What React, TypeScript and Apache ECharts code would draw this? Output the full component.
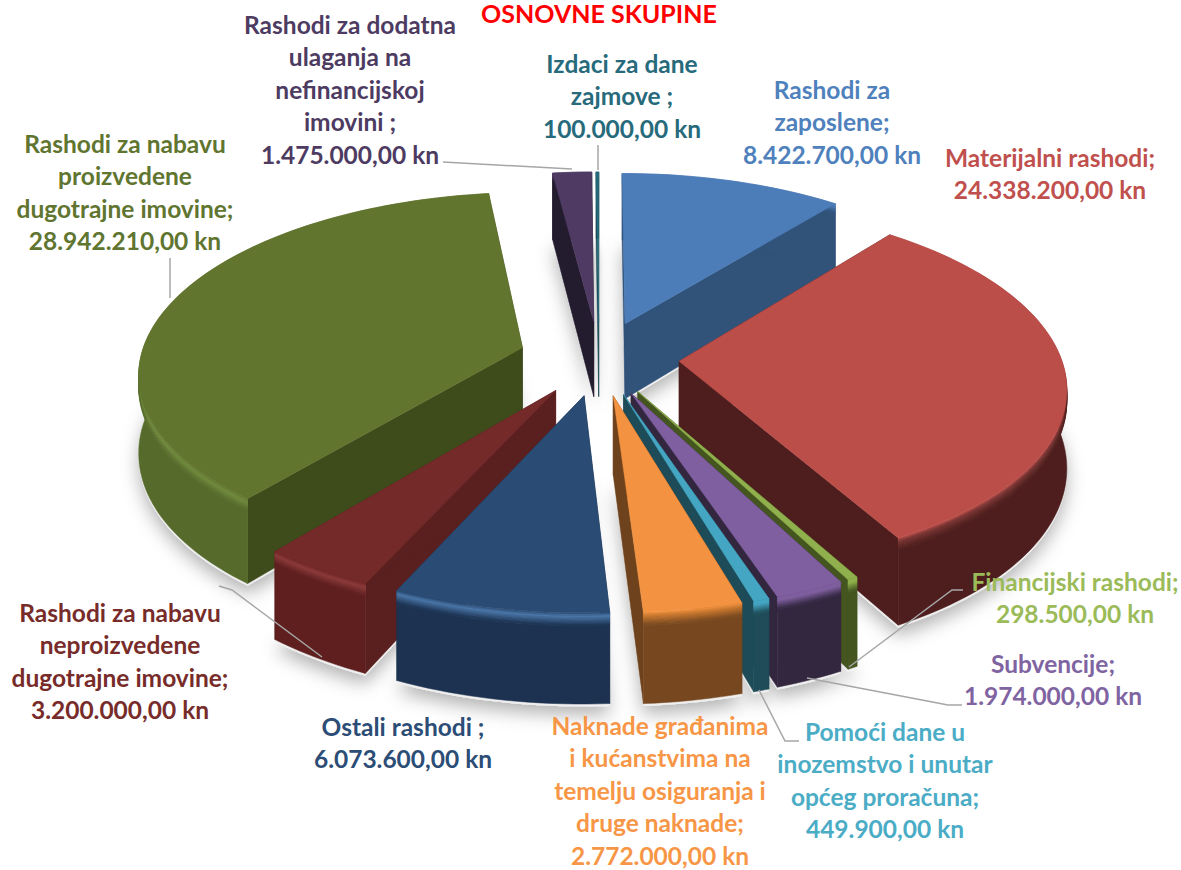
import React, { useEffect, useRef } from "react";
import * as echarts from "echarts";

const categories = [
  "Rashodi za zaposlene",
  "Materijalni rashodi",
  "Financijski rashodi",
  "Subvencije",
  "Pomoći dane u inozemstvo i unutar općeg proračuna",
  "Naknade građanima i kućanstvima na temelju osiguranja i druge naknade",
  "Ostali rashodi",
  "Rashodi za nabavu neproizvedene dugotrajne imovine",
  "Rashodi za nabavu proizvedene dugotrajne imovine",
  "Rashodi za dodatna ulaganja na nefinancijskoj imovini",
  "Izdaci za dane zajmove",
];
const values = [8422700, 24338200, 298500, 1974000, 449900, 2772000, 6073600, 3200000, 28942210, 1475000, 100000];

const topColors = ["#4C7DB8", "#BC4E4A", "#8FB04C", "#7F5F9F", "#45A6C3", "#F39341", "#2A4B73", "#752A2A", "#62752F", "#4E3A62", "#276A7C"];
const edgeColors = ["#31537A", "#4D1E1D", "#445520", "#32273F", "#1D4B57", "#6E421C", "#1B2F4A", "#5A201F", "#3E4C1C", "#231B2E", "#1B4A56"];
const wallColors = ["#31537A", "#4D1E1D", "#445520", "#32273F", "#1F4C58", "#774820", "#1C3250", "#5E1F1E", "#566A2B", "#231B2E", "#1B4A56"];
const rimColors = ["#4C7DB8", "#7A3533", "#8FB04C", "#7F5F9F", "#45A6C3", "#C9782F", "#4A76A8", "#8C3A3A", "#6F8A3C", "#4E3A62", "#276A7C"];
const labelColors = ["#4F81BD", "#C0504D", "#9BBB59", "#8064A2", "#4BACC6", "#F79646", "#2C4D75", "#772C2A", "#5F7530", "#4D3B62", "#276A7C"];

const labelLines = [
  ["Rashodi za", "zaposlene;", "8.422.700,00 kn"],
  ["Materijalni rashodi;", "24.338.200,00 kn"],
  ["Financijski rashodi;", "298.500,00 kn"],
  ["Subvencije;", "1.974.000,00 kn"],
  ["Pomoći dane u", "inozemstvo i unutar", "općeg proračuna;", "449.900,00 kn"],
  ["Naknade građanima", "i kućanstvima na", "temelju osiguranja i", "druge naknade;", "2.772.000,00 kn"],
  ["Ostali rashodi ;", "6.073.600,00 kn"],
  ["Rashodi za nabavu", "neproizvedene", "dugotrajne imovine;", "3.200.000,00 kn"],
  ["Rashodi za nabavu", "proizvedene", "dugotrajne imovine;", "28.942.210,00 kn"],
  ["Rashodi za dodatna", "ulaganja na", "nefinancijskoj", "imovini ;", "1.475.000,00 kn"],
  ["Izdaci za dane", "zajmove ;", "100.000,00 kn"],
];
const labelAnchors: [number, number][] = [
  [832, 89], [1050, 157], [1075, 581], [1053, 663], [885, 731], [660, 725],
  [403, 726], [120, 612], [125, 143], [350, 24], [622, 63],
];
const labelStep = 32.5;

const leaderLines: number[][][] = [
  [[443, 162], [572, 169]],
  [[598, 145], [598, 170]],
  [[170, 258], [170, 298]],
  [[219, 586], [232, 590], [322, 657]],
  [[963, 590], [952, 590], [849, 667]],
  [[962, 705], [948, 705], [807, 678]],
  [[759, 690], [785, 741], [799, 741]],
];

const VIEW = { cx: 599, cy: 358, rx: 382, ry: 178, persp: 0.13, depth: 77, explode: 0.21, rim: 11 };
const total = values.reduce((a, b) => a + b, 0);

function hexRgb(h: string) {
  return [1, 3, 5].map((i) => parseInt(h.slice(i, i + 2), 16));
}
function mix(a: string, b: string, t: number) {
  const A = hexRgb(a), B = hexRgb(b);
  return `rgb(${A.map((c, i) => Math.round(c + (B[i] - c) * t)).join(",")})`;
}

function renderSlice(params: any, api: any) {
  const i = params.dataIndex;
  const before = values.slice(0, i).reduce((a, b) => a + b, 0);
  const a0 = (before / total) * Math.PI * 2;
  const a1 = a0 + (api.value(0) / total) * Math.PI * 2;
  const mid = (a0 + a1) / 2;
  const ex = VIEW.explode * Math.sin(mid);
  const ey = -VIEW.explode * Math.cos(mid);
  const project = (u0: number, v0: number, z: number) => {
    const u = u0 + ex, v = v0 + ey;
    const w = 1 / (1 - VIEW.persp * v);
    return [VIEW.cx + VIEW.rx * u * w, VIEW.cy + VIEW.ry * v * w + z * w];
  };
  const n = Math.max(2, Math.ceil((a1 - a0) / (Math.PI / 120)));
  const angles: number[] = [];
  for (let k = 0; k <= n; k++) angles.push(a0 + ((a1 - a0) * k) / n);
  const arc = (z: number) => angles.map((a) => project(Math.sin(a), -Math.cos(a), z));
  const order = 300 - Math.cos(mid) * 100;
  const children: any[] = [];
  const poly = (points: number[][], fill: string, z2: number, extra: any = {}) =>
    children.push({ type: "polygon", shape: { points }, style: { fill, stroke: fill, lineWidth: 0.5, ...extra }, z2 });

  // soft ground shadow
  const footprint = [project(0, 0, VIEW.depth + 2), ...arc(VIEW.depth + 2)];
  children.push({
    type: "polygon",
    shape: { points: footprint },
    style: { fill: "#efefef", shadowBlur: 18, shadowOffsetY: 8, shadowColor: "rgba(0,0,0,0.3)" },
    z2: 1,
  });

  const apexTop = project(0, 0, 0);
  const apexBottom = project(0, 0, VIEW.depth);
  const edge = (a: number) => {
    const t = project(Math.sin(a), -Math.cos(a), 0);
    const b = project(Math.sin(a), -Math.cos(a), VIEW.depth);
    return [apexTop, t, b, apexBottom];
  };
  poly(edge(a0), edgeColors[i], order);
  poly(edge(a1), edgeColors[i], order);

  // outer wall, then the rounded rim as thin strips that follow the arc
  poly([...arc(VIEW.rim), ...arc(VIEW.depth).reverse()], wallColors[i], order + 0.1);
  const strips = 8;
  for (let s = 0; s < strips; s++) {
    const t0 = s / strips, t1 = (s + 1) / strips;
    const tm = (t0 + t1) / 2;
    const color = tm < 0.3
      ? mix(topColors[i], rimColors[i], tm / 0.3)
      : mix(rimColors[i], wallColors[i], (tm - 0.3) / 0.7);
    poly([...arc(t0 * VIEW.rim), ...arc(t1 * VIEW.rim + 0.4).reverse()], color, order + 0.2);
  }
  // top face
  poly([apexTop, ...arc(0)], topColors[i], order + 0.3);
  return { type: "group", children };
}

export default function App() {
  const ref = useRef<HTMLDivElement>(null);
  useEffect(() => {
    const chart = echarts.init(ref.current!, undefined, { renderer: "svg" });
    const labelGraphics: any[] = [];
    labelLines.forEach((lines, i) => {
      lines.forEach((line, j) => {
        labelGraphics.push({
          type: "text",
          x: labelAnchors[i][0],
          y: labelAnchors[i][1] + j * labelStep,
          z: 20,
          style: {
            text: line,
            fill: labelColors[i],
            font: "bold 24.5px Lato, 'Open Sans', sans-serif",
            textAlign: "center",
            textVerticalAlign: "middle",
          },
        });
      });
    });
    const leaderGraphics = leaderLines.map((points) => ({
      type: "polyline",
      z: 15,
      shape: { points },
      style: { stroke: "#A6A6A6", lineWidth: 1.5, fill: "none" },
    }));
    chart.setOption({
      animation: false,
      backgroundColor: "#ffffff",
      title: {
        text: "OSNOVNE SKUPINE",
        left: 599,
        top: 2,
        padding: 0,
        textAlign: "center",
        textStyle: { color: "#FF0000", fontSize: 25, lineHeight: 22, fontWeight: "bold", fontFamily: "Lato, sans-serif" },
      },
      series: [
        {
          type: "custom",
          coordinateSystem: "none",
          renderItem: renderSlice,
          silent: true,
          data: values.map((v, i) => ({ name: categories[i], value: [v] })),
        },
      ],
      graphic: [...leaderGraphics, ...labelGraphics],
    });
    return () => chart.dispose();
  }, []);
  return <div ref={ref} style={{ position: "fixed", left: 0, top: 0, width: 1181, height: 870 }} />;
}
